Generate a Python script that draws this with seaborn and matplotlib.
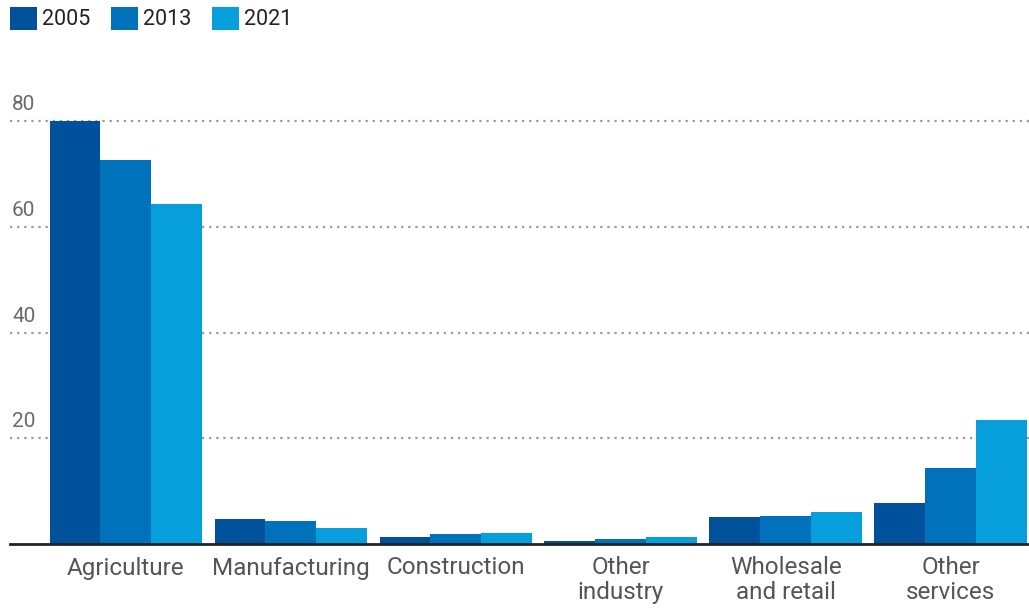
import matplotlib
matplotlib.use("Agg")
import matplotlib.pyplot as plt
import matplotlib.transforms as mtransforms
from matplotlib.patches import Patch
import seaborn as sns
import pandas as pd

# Employment share by sector (%)
categories = ["Agriculture", "Manufacturing", "Construction",
              "Other\nindustry", "Wholesale\nand retail", "Other\nservices"]
years = ["2005", "2013", "2021"]
share_2005 = [80.0, 4.7, 1.3, 0.5, 5.1, 7.8]
share_2013 = [72.6, 4.4, 1.9, 0.9, 5.3, 14.4]
share_2021 = [64.3, 3.0, 2.1, 1.3, 6.0, 23.4]
y_ticks = [20, 40, 60, 80]
colors = ["#00519b", "#0072bb", "#069fdb"]

df = pd.DataFrame({
    "sector": categories * 3,
    "year": [y for y in years for _ in categories],
    "share": share_2005 + share_2013 + share_2021,
})

sns.set_style("white")
plt.rcParams["font.family"] = ["Roboto", "DejaVu Sans"]

fig = plt.figure(figsize=(10.29, 6.10), dpi=100)
ax = fig.add_axes([10 / 1029, 66 / 610, 1019 / 1029, 444 / 610])

sns.barplot(data=df, x="sector", y="share", hue="year", order=categories,
            hue_order=years, palette=colors, width=0.927, gap=0,
            saturation=1, ax=ax, legend=False, zorder=3, linewidth=0)

ax.set_xlim(-0.703, 5.473)
ax.set_ylim(0, 84)
ax.set_xlabel("")
ax.set_ylabel("")

# dotted gridlines with labels sitting above them
label_tf = mtransforms.blended_transform_factory(ax.transAxes, ax.transData)
for v in y_ticks:
    ax.axhline(v, color="#9a9a9a", lw=1.6, ls=(0, (1, 2.2)), zorder=1)
    ax.text(0.002, v + 1.3, str(v), transform=label_tf,
            fontsize=15, color="#6a6a6a", ha="left", va="bottom")
ax.set_yticks([])

for s in ["top", "right", "left"]:
    ax.spines[s].set_visible(False)
ax.spines["bottom"].set_color("#222222")
ax.spines["bottom"].set_linewidth(2)
ax.spines["bottom"].set_zorder(4)

ax.tick_params(axis="x", length=0, pad=9, labelsize=17.5, labelcolor="#555555")
for lbl in ax.get_xticklabels():
    lbl.set_linespacing(1.08)
    lbl.set_verticalalignment("top")

handles = [Patch(facecolor=c, edgecolor="none") for c in colors]
fig.legend(handles, years, loc="upper left", bbox_to_anchor=(-0.005, 1.014),
           ncol=3, frameon=False, fontsize=15.5, handlelength=1.25,
           handleheight=1.3, handletextpad=0.25, columnspacing=0.95,
           labelcolor="#222222", borderaxespad=0.3)

fig.savefig("out.png", dpi=100)
